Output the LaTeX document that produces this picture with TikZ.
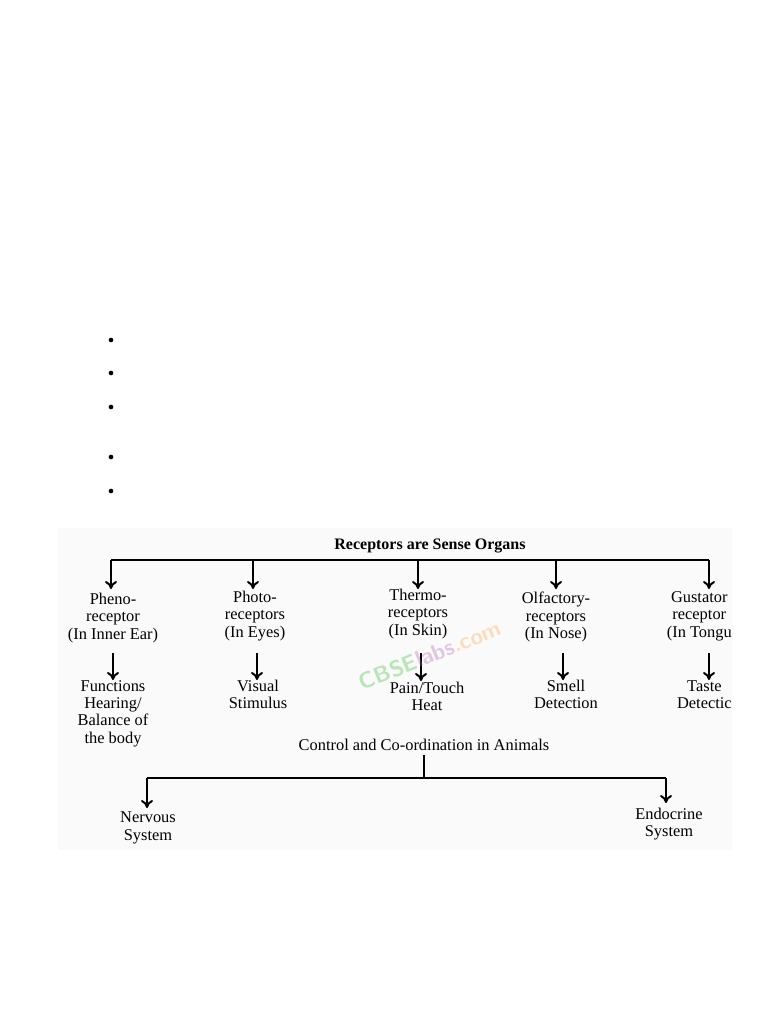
\documentclass[tikz,border=0pt]{standalone}
\usepackage{fontspec}
\setmainfont{Liberation Serif}
\usetikzlibrary{arrows.meta}

\begin{document}
\begin{tikzpicture}[
    x=0.75pt, y=-0.75pt,
    lbl/.style={align=center, font=\fontsize{12.3}{13}\selectfont, inner sep=0pt},
    arrow/.style={-{To[length=6pt, width=9pt]}, line width=1.5pt},
    branch/.style={line width=1.5pt},
    dot/.style={circle, fill=black, inner sep=0pt, minimum size=3.5pt}
]
\useasboundingbox (0,0) rectangle (768,1024);

% scanned area
\fill[gray!4] (58,528) rectangle (732,850);

% bullets
\foreach \y/\n in {340/a, 373/b, 407/c, 457/d, 491/e}
    \node[dot] (bullet\n) at (111,\y) {};

% heading
\node[lbl, font=\bfseries\fontsize{12}{13}\selectfont] (receptors) at (430,546) {Receptors are Sense Organs};
\coordinate (rleft) at (111,560);
\coordinate (rright) at (709,560);
\draw[branch] (rleft) -- (rright);

% receptor types
\node[lbl] (pheno) at (113,618) {Pheno-\\receptor\\(In Inner Ear)};
\node[lbl] (photo) at (255,616) {Photo-\\receptors\\(In Eyes)};
\node[lbl] (thermo) at (418,614) {Thermo-\\receptors\\(In Skin)};
\node[lbl] (olfactory) at (556,617) {Olfactory-\\receptors\\(In Nose)};
\node[lbl, anchor=east] (gustatory) at (732,616) {Gustator\\receptor\\(In Tongu};

\foreach \x/\n in {111/pheno, 253/photo, 418/thermo, 556/olfactory, 709/gustatory}
    \draw[arrow] (\x,560) -- (\x,589);

% functions
\node[lbl, anchor=north] (hearing) at (113,680) {Functions\\Hearing/\\Balance of\\the body};
\node[lbl, anchor=north] (visual) at (258,680) {Visual\\Stimulus};
\node[lbl, anchor=north] (pain) at (427,682) {Pain/Touch\\Heat};
\node[lbl, anchor=north] (smell) at (566,680) {Smell\\Detection};
\node[lbl, anchor=north east] (taste) at (732,680) {Taste\\Detectic};

\draw[arrow] (pheno.south |- 0,653) -- (pheno.south |- 0,680);
\draw[arrow] (257,653) -- (257,680);
\draw[arrow] (421,653) -- (421,681);
\draw[arrow] (563,653) -- (563,680);
\draw[arrow] (709,653) -- (709,680);

% watermark
\node[rotate=22, font=\sffamily\bfseries\fontsize{17}{17}\selectfont, opacity=0.35] (watermark) at (430,655)
    {\textcolor{green!50!gray}{CBSE}\textcolor{violet!60}{labs}\textcolor{orange!70}{.com}};

% control and co-ordination
\node[lbl] (control) at (424,745) {Control and Co-ordination in Animals};
\coordinate (cjoin) at (424,778);
\draw[branch] (424,755) -- (cjoin);
\draw[branch] (147,778) -- (666,778);

\node[lbl] (nervous) at (148,828) {Nervous\\System};
\node[lbl] (endocrine) at (669,824) {Endocrine\\System};
\draw[arrow] (147,778) -- (147,808);
\draw[arrow] (666,778) -- (666,803);

\end{tikzpicture}
\end{document}
